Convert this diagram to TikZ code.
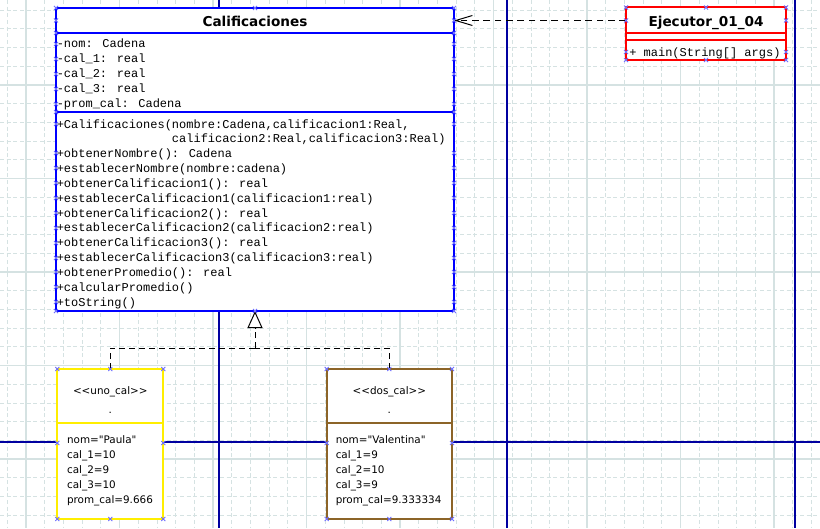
\documentclass[tikz,border=0pt]{standalone}
\usepackage{fontspec}
\setmainfont{DejaVu Sans}
\newfontfamily\umlmono{Liberation Mono}
\usetikzlibrary{arrows.meta,positioning}
\definecolor{gridc}{HTML}{D5E2E2}
\definecolor{pagec}{HTML}{0000A0}
\definecolor{clsblue}{HTML}{0000FF}
\definecolor{clsred}{HTML}{FF0000}
\definecolor{objyel}{HTML}{FFEE00}
\definecolor{objbrn}{HTML}{8C6428}
\definecolor{handlec}{HTML}{6F6FFF}

\begin{document}
\begin{tikzpicture}[x=0.75pt,y=-0.75pt,
  minor/.style={gridc,line width=0.6pt,dash pattern=on 3pt off 2pt},
  major/.style={gridc,line width=0.8pt},
  page/.style={pagec,line width=0.9pt},
  box/.style={draw,fill=white,line width=1.5pt,outer sep=0pt,inner sep=0pt},
  title/.style={font=\fontsize{10.2pt}{12pt}\selectfont\bfseries,inner sep=0pt,anchor=base},
  member/.style={font=\umlmono\fontsize{9pt}{11pt}\selectfont,inner sep=0pt,anchor=base west},
  objtext/.style={font=\fontsize{7.8pt}{10pt}\selectfont,inner sep=0pt},
  dep/.style={dash pattern=on 5pt off 3.5pt,line width=0.75pt,-{Straight Barb[length=12.5pt,width=7.5pt]}},
  real/.style={dash pattern=on 4.5pt off 3pt,line width=0.75pt},
  handle/.style={handlec,line width=0.6pt}]
% sheet, grid and page edges
\fill[white] (0,0) rectangle (820,528);
\useasboundingbox (0,0) rectangle (820,528);
\begin{scope}
\clip (0,0) rectangle (820,528);
\foreach \gx in {7.3,26,...,820} \draw[minor] (\gx,0) -- (\gx,528);
\foreach \gy in {10.2,28.9,...,528} \draw[minor] (0,\gy) -- (820,\gy);
\foreach \gx in {26,119.5,...,820} \draw[major] (\gx,0) -- (\gx,528);
\foreach \gy in {85,178.5,...,528} \draw[major] (0,\gy) -- (820,\gy);
\foreach \gx in {219,507,795} \draw[page] (\gx,0) -- (\gx,528);
\draw[page] (0,442) -- (820,442);
\end{scope}

% class Calificaciones
\node[box,draw=clsblue,minimum width=298.5pt,minimum height=18.75pt] (calif-head) at (255,20.5) {};
\node[box,draw=clsblue,minimum width=298.5pt,minimum height=59.25pt,below=0pt of calif-head] (calif-attr) {};
\node[box,draw=clsblue,minimum width=298.5pt,minimum height=149.25pt,below=0pt of calif-attr] (calif-meth) {};
\node[title] (calif-name) at (255,26.3) {Calificaciones};
\foreach \m [count=\i from 0] in {{-nom: Cadena},{-cal\_1: real},{-cal\_2: real},{-cal\_3: real},{-prom\_cal: Cadena}}
  \node[member] (calif-a\i) at (56.5,{48+14.9*\i}) {\m};
\foreach \m [count=\i from 0] in {{+Calificaciones(nombre:Cadena,calificacion1:Real,},
    {\phantom{+Calificaciones(}calificacion2:Real,calificacion3:Real)},
    {+obtenerNombre(): Cadena},{+establecerNombre(nombre:cadena)},
    {+obtenerCalificacion1(): real},{+establecerCalificacion1(calificacion1:real)},
    {+obtenerCalificacion2(): real},{+establecerCalificacion2(calificacion2:real)},
    {+obtenerCalificacion3(): real},{+establecerCalificacion3(calificacion3:real)},
    {+obtenerPromedio(): real},{+calcularPromedio()},{+toString()}}
  \node[member] (calif-m\i) at (56.5,{128+14.85*\i}) {\m};

% class Ejecutor_01_04
\node[box,draw=clsred,minimum width=120pt,minimum height=19.5pt] (ejec-head) at (706,20.5) {};
\node[box,draw=clsred,minimum width=120pt,minimum height=5.25pt,below=0pt of ejec-head] (ejec-attr) {};
\node[box,draw=clsred,minimum width=120pt,minimum height=14.6pt,below=0pt of ejec-attr] (ejec-meth) {};
\node[title] (ejec-name) at (706,26.3) {Ejecutor\_01\_04};
\node[member] (ejec-m0) at (629,56) {+ main(String[] args)};

% objects
\node[box,draw=objyel,minimum width=79.5pt,minimum height=40.3pt] (uno-head) at (110.3,395.85) {};
\node[box,draw=objyel,minimum width=79.5pt,minimum height=72.2pt,below=0pt of uno-head] (uno-body) {};
\node[objtext,anchor=base] (uno-st) at (110.3,394) {{<}{<}uno\_cal{>}{>}};
\node[objtext,anchor=base] (uno-dot) at (110.3,413.7) {.};
\foreach \v [count=\i from 0] in {nom=\textquotedbl Paula\textquotedbl,cal\_1=10,cal\_2=9,cal\_3=10,prom\_cal=9.666}
  \node[objtext,anchor=base west] (uno-v\i) at (66.8,{443.3+15*\i}) {\v};

\node[box,draw=objbrn,minimum width=94pt,minimum height=40.3pt] (dos-head) at (389.35,395.85) {};
\node[box,draw=objbrn,minimum width=94pt,minimum height=72.2pt,below=0pt of dos-head] (dos-body) {};
\node[objtext,anchor=base] (dos-st) at (389.35,394) {{<}{<}dos\_cal{>}{>}};
\node[objtext,anchor=base] (dos-dot) at (389.35,413.7) {.};
\foreach \v [count=\i from 0] in {nom=\textquotedbl Valentina\textquotedbl,cal\_1=9,cal\_2=10,cal\_3=9,prom\_cal=9.333334}
  \node[objtext,anchor=base west] (dos-v\i) at (335.5,{443.3+15*\i}) {\v};

% relations
\draw[dep] (ejec-head.west) -- (calif-head.east);
\coordinate (junc) at (255,348);
\draw[real] (uno-head.north) |- (junc);
\draw[real] (dos-head.north) |- (junc);
\draw[real,-{Triangle[open,fill=white,length=12.75pt,width=11.25pt]}] (junc) -- (calif-meth.south);

% selection handles
\foreach \hy in {8,20.5,33,44,59,74,89,104,112,124,153,168,183,198,213,228,243,258,272,287,302,311}
  \foreach \hx in {56,454} \draw[handle] (\hx,\hy) +(-2,-2) -- +(2,2) +(-2,2) -- +(2,-2);
\foreach \hy in {7.5,20.5,52,60}
  \foreach \hx in {626,786} \draw[handle] (\hx,\hy) +(-2,-2) -- +(2,2) +(-2,2) -- +(2,-2);
\foreach \p in {(255,8),(255,311),(706,7.5),(706,60),
    (57.3,369),(110.3,369),(163.3,369),(57.3,443),(163.3,443),(57.3,519),(110.3,519),(163.3,519),
    (326.7,369),(389.3,369),(452,369),(326.7,443),(452,443),(326.7,519),(389.3,519),(452,519)}
  \draw[handle] \p +(-2,-2) -- +(2,2) +(-2,2) -- +(2,-2);
\end{tikzpicture}
\end{document}
